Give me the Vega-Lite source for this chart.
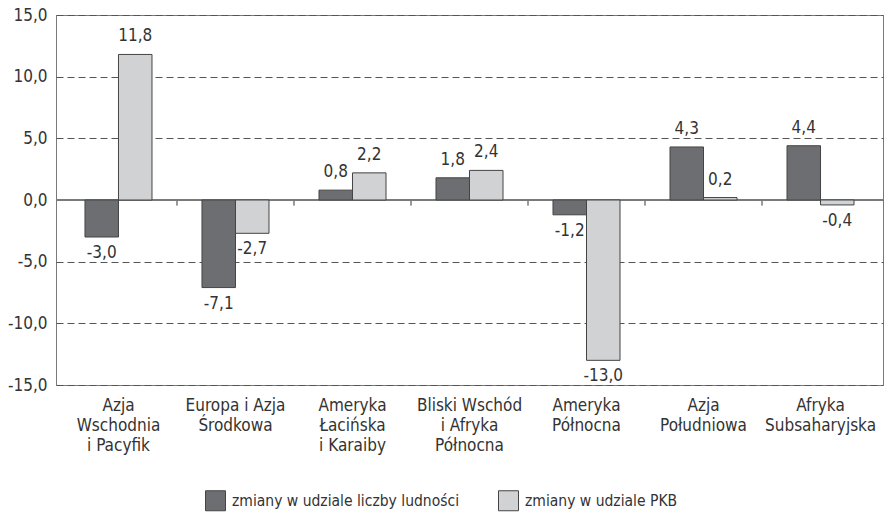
{
  "$schema": "https://vega.github.io/schema/vega-lite/v6.json",
  "width": 827,
  "height": 370,
  "autosize": {"type": "none"},
  "padding": {"left": 56, "top": 15, "right": 6, "bottom": 132},
  "config": {
    "font": "DejaVu Sans Condensed, sans-serif",
    "view": {"stroke": "#7a7a7a", "strokeWidth": 1},
    "axis": {"labelFont": "DejaVu Sans Condensed, sans-serif", "labelFontSize": 17, "labelColor": "#333"},
    "legend": {"labelFont": "DejaVu Sans Condensed, sans-serif", "labelFontSize": 15.5, "labelColor": "#333", "labelLimit": 0}
  },
  "data": {
    "values": [
      {"region": "Azja|Wschodnia|i Pacyfik", "series": "zmiany w udziale liczby ludności", "value": -3.0},
      {"region": "Azja|Wschodnia|i Pacyfik", "series": "zmiany w udziale PKB", "value": 11.8},
      {"region": "Europa i Azja|Środkowa", "series": "zmiany w udziale liczby ludności", "value": -7.1},
      {"region": "Europa i Azja|Środkowa", "series": "zmiany w udziale PKB", "value": -2.7},
      {"region": "Ameryka|Łacińska|i Karaiby", "series": "zmiany w udziale liczby ludności", "value": 0.8},
      {"region": "Ameryka|Łacińska|i Karaiby", "series": "zmiany w udziale PKB", "value": 2.2},
      {"region": "Bliski Wschód|i Afryka|Północna", "series": "zmiany w udziale liczby ludności", "value": 1.8},
      {"region": "Bliski Wschód|i Afryka|Północna", "series": "zmiany w udziale PKB", "value": 2.4},
      {"region": "Ameryka|Północna", "series": "zmiany w udziale liczby ludności", "value": -1.2},
      {"region": "Ameryka|Północna", "series": "zmiany w udziale PKB", "value": -13.0},
      {"region": "Azja|Południowa", "series": "zmiany w udziale liczby ludności", "value": 4.3},
      {"region": "Azja|Południowa", "series": "zmiany w udziale PKB", "value": 0.2},
      {"region": "Afryka|Subsaharyjska", "series": "zmiany w udziale liczby ludności", "value": 4.4},
      {"region": "Afryka|Subsaharyjska", "series": "zmiany w udziale PKB", "value": -0.4}
    ]
  },
  "transform": [
    {"calculate": "replace(replace(format(datum.value, '.1f'), '.', ','), '\u2212', '-')", "as": "label"}
  ],
  "encoding": {
    "x": {
      "field": "region", "type": "nominal", "sort": null,
      "scale": {"paddingInner": 0, "paddingOuter": 0.034,
                "domain": ["Azja|Wschodnia|i Pacyfik", "Europa i Azja|Środkowa", "Ameryka|Łacińska|i Karaiby", "Bliski Wschód|i Afryka|Północna", "Ameryka|Północna", "Azja|Południowa", "Afryka|Subsaharyjska"]},
      "axis": {"title": null, "labelAngle": 0, "domain": false, "ticks": false, "labelPadding": 12,
               "labelExpr": "split(datum.label, '|')", "labelLineHeight": 20, "labelBaseline": "top"}
    }
  },
  "layer": [
    {
      "mark": {"type": "rule", "color": "#7a7a7a", "strokeWidth": 1},
      "encoding": {"y": {"datum": 0}, "x": null}
    },
    {
      "transform": [{"filter": "datum.region != 'Azja|Wschodnia|i Pacyfik'"}],
      "mark": {"type": "rule", "color": "#7a7a7a", "strokeWidth": 1},
      "encoding": {
        "x": {"field": "region", "type": "nominal", "sort": null, "bandPosition": 0},
        "y": {"datum": 0},
        "y2": {"datum": -0.45}
      }
    },
    {
      "mark": {"type": "bar", "stroke": "#444", "strokeWidth": 1},
      "encoding": {
        "xOffset": {"field": "series", "type": "nominal", "sort": null, "scale": {"paddingOuter": 0.746, "paddingInner": 0}},
        "y": {
          "field": "value", "type": "quantitative",
          "scale": {"domain": [-15, 15], "nice": false, "zero": false},
          "axis": {"title": null, "values": [-15, -10, -5, 0, 5, 10, 15], "ticks": false, "domain": false,
                   "labelPadding": 9,
                   "labelExpr": "replace(replace(format(datum.value, '.1f'), '.', ','), '\u2212', '-')",
                   "grid": true, "gridDash": [7, 4], "gridColor": "#555", "gridWidth": 1}
        },
        "color": {
          "field": "series", "type": "nominal", "sort": null,
          "scale": {"range": ["#6d6e71", "#d1d2d4"]},
          "legend": {"title": null, "orient": "none", "legendX": 149, "legendY": 475, "direction": "horizontal",
                     "symbolType": "square", "symbolSize": 400, "symbolStrokeColor": "#444", "symbolStrokeWidth": 1,
                     "columnPadding": 36, "labelOffset": 6}
        }
      }
    },
    {
      "transform": [{"filter": "datum.value >= 0"}],
      "mark": {"type": "text", "baseline": "bottom", "dy": -9, "fontSize": 17, "color": "#333"},
      "encoding": {
        "xOffset": {"field": "series", "type": "nominal", "sort": null},
        "y": {"field": "value", "type": "quantitative"},
        "text": {"field": "label", "type": "nominal"}
      }
    },
    {
      "transform": [{"filter": "datum.value < 0"}],
      "mark": {"type": "text", "baseline": "top", "dy": 8, "fontSize": 17, "color": "#333"},
      "encoding": {
        "xOffset": {"field": "series", "type": "nominal", "sort": null},
        "y": {"field": "value", "type": "quantitative"},
        "text": {"field": "label", "type": "nominal"}
      }
    }
  ]
}
